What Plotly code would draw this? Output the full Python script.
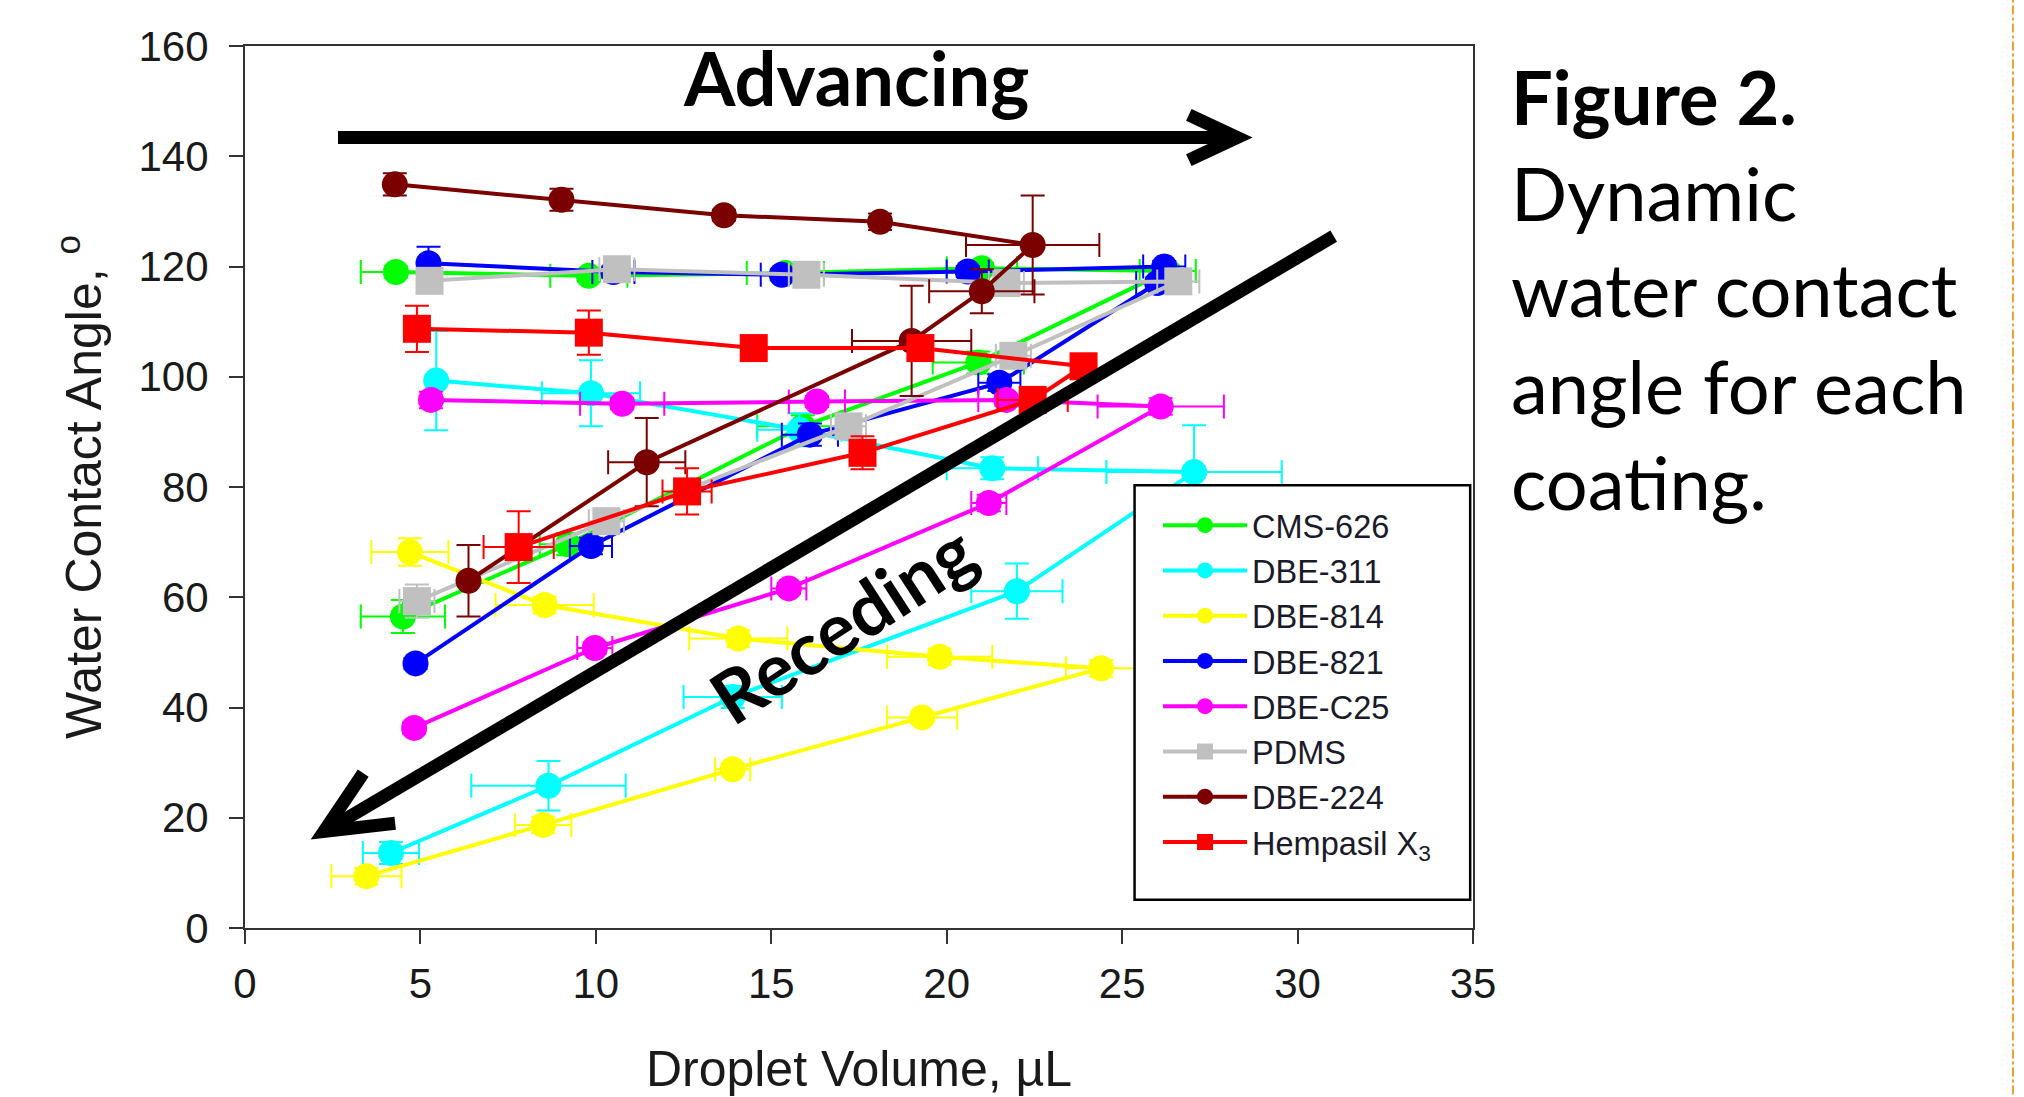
import plotly.graph_objects as go

# ---------------- data ----------------
series_names = ["CMS-626", "DBE-311", "DBE-814", "DBE-821", "DBE-C25", "PDMS", "DBE-224", "Hempasil X<sub>3</sub>"]
series_colors = ["#00FF00", "#00FFFF", "#FFFF00", "#0000FF", "#FF00FF", "#C0C0C0", "#7B0000", "#FF0000"]
series_symbols = ["circle", "circle", "circle", "circle", "circle", "square", "circle", "square"]

cms626_x = [4.3, 9.8, 15.4, 21.0, 26.3, 20.9, 15.9, 9.2, 4.5]
cms626_y = [119.0, 118.3, 118.8, 119.7, 119.2, 102.6, 91.0, 69.6, 56.5]
cms626_ex = [1.0, 1.1, 1.1, 1.0, 0.8, 1.3, 1.3, 0.8, 1.2]
cms626_ey = [1.0, 1.0, 1.0, 1.0, 1.0, 2.0, 2.0, 2.0, 3.0]

dbe311_x = [5.45, 9.86, 15.8, 21.3, 27.05, 22.0, 13.9, 8.65, 4.16]
dbe311_y = [99.3, 97.0, 90.4, 83.4, 82.7, 61.1, 41.9, 25.8, 13.6]
dbe311_ex = [None, 1.4, 1.2, 1.3, 2.5, 1.3, 1.4, 2.2, 0.8]
dbe311_ey = [9.0, 6.0, 3.0, 2.0, 8.5, 5.0, 2.0, 4.5, 2.0]

dbe814_x = [4.7, 8.54, 14.06, 19.8, 24.4, 19.3, 13.9, 8.5, 3.46]
dbe814_y = [68.2, 58.6, 52.5, 49.2, 47.1, 38.2, 28.8, 18.7, 9.4]
dbe814_ex = [1.1, 1.4, 1.4, 1.5, 1.0, 1.0, 0.5, 0.8, 1.0]
dbe814_ey = [2.5, 1.5, 1.5, 1.5, 1.5, 1.0, 1.0, 1.5, 1.5]

dbe821_x = [5.23, 10.5, 15.3, 20.6, 26.2, 26.0, 21.5, 16.1, 9.86, 4.86]
dbe821_y = [120.6, 119.0, 118.5, 119.1, 120.0, 117.0, 98.9, 89.5, 69.3, 48.0]
dbe821_ex = [None, 0.6, 0.6, 0.6, 0.6, 0.6, 0.6, 0.8, 0.6, None]
dbe821_ey = [3.0, 1.0, 1.0, 1.0, 1.0, 1.0, 1.5, 2.0, 1.5, 1.0]

dbec25_x = [5.3, 10.75, 16.3, 21.7, 26.1, 21.2, 15.5, 9.97, 4.82]
dbec25_y = [95.8, 95.1, 95.5, 95.8, 94.6, 77.1, 61.6, 50.8, 36.3]
dbec25_ex = [None, 1.2, 0.8, 0.8, 1.8, 0.5, 0.5, 0.5, None]
dbec25_ey = [1.5, 1.0, 1.0, 1.0, 1.5, 1.5, 1.0, 1.0, 1.0]

pdms_x = [5.26, 10.6, 16.0, 21.7, 26.6, 21.9, 17.2, 10.3, 4.9]
pdms_y = [117.4, 119.5, 118.5, 117.0, 117.3, 103.8, 91.0, 73.8, 59.3]
pdms_ex = [None, 0.5, 0.5, 0.5, 0.6, 0.5, 0.5, 0.5, 0.5]
pdms_ey = [1.0, 1.0, 1.0, 1.0, 1.0, 1.0, 1.0, 1.0, 3.0]

dbe224_x = [4.27, 9.02, 13.65, 18.1, 22.45, 21.0, 19.0, 11.45, 6.37]
dbe224_y = [134.9, 132.1, 129.3, 128.1, 123.9, 115.5, 106.5, 84.5, 63.0]
dbe224_ex = [None, None, None, None, 1.9, 1.5, 1.7, 1.1, None]
dbe224_ey = [2.0, 2.0, 1.0, 1.5, 9.0, 4.0, 10.0, 8.0, 6.5]

hemp_x = [4.9, 9.8, 14.5, 19.25, 23.9, 22.45, 17.6, 12.6, 7.8]
hemp_y = [108.7, 108.0, 105.2, 105.2, 101.9, 95.8, 86.2, 79.2, 69.1]
hemp_ex = [None, None, None, None, None, 1.0, None, 0.7, 1.0]
hemp_ey = [4.2, 4.0, 1.0, 1.0, 1.5, 1.5, 3.0, 4.2, 6.5]

all_x = [cms626_x, dbe311_x, dbe814_x, dbe821_x, dbec25_x, pdms_x, dbe224_x, hemp_x]
all_y = [cms626_y, dbe311_y, dbe814_y, dbe821_y, dbec25_y, pdms_y, dbe224_y, hemp_y]
all_ex = [cms626_ex, dbe311_ex, dbe814_ex, dbe821_ex, dbec25_ex, pdms_ex, dbe224_ex, hemp_ex]
all_ey = [cms626_ey, dbe311_ey, dbe814_ey, dbe821_ey, dbec25_ey, pdms_ey, dbe224_ey, hemp_ey]

x_ticks = [0, 5, 10, 15, 20, 25, 30, 35]
y_ticks = [0, 20, 40, 60, 80, 100, 120, 140, 160]

# arrows (data coordinates)
adv_arrow = dict(x0=2.65, x1=28.28, y=143.4, wing_x=26.9, wing_dy=4.1)
rec_arrow = dict(x0=31.03, y0=125.5, x1=2.25, y1=17.5, w1=(3.37, 28.1), w2=(4.28, 19.0))

# ---------------- figure ----------------
fig = go.Figure()
for name, col, sym, xs, ys, exs, eys in zip(series_names, series_colors, series_symbols,
                                            all_x, all_y, all_ex, all_ey):
    fig.add_trace(go.Scatter(
        x=xs, y=ys, name=name, mode="lines+markers",
        line=dict(color=col, width=4),
        marker=dict(color=col, symbol=sym, size=28 if sym == "square" else 26, line=dict(width=0)),
        error_x=dict(type="data", array=exs, color=col, thickness=2, width=12, visible=True),
        error_y=dict(type="data", array=eys, color=col, thickness=2, width=12, visible=True),
    ))

TICKFONT = dict(family="Arial, Liberation Sans", size=42, color="#1a1a1a")
TITLEFONT = dict(family="Arial, Liberation Sans", size=50, color="#1a1a1a")

fig.update_xaxes(range=[0, 35], tickvals=x_ticks, ticks="outside", ticklen=14, tickwidth=2,
                 tickcolor="#333", showline=True, linecolor="#333", linewidth=2, mirror=True,
                 showgrid=False, zeroline=False, tickfont=TICKFONT, ticklabelstandoff=4,
                 automargin=False,
                 title=dict(text="Droplet Volume, µL", font=TITLEFONT, standoff=46))
fig.update_yaxes(range=[0, 160], tickvals=y_ticks, ticks="outside", ticklen=14, tickwidth=2,
                 tickcolor="#333", showline=True, linecolor="#333", linewidth=2, mirror=True,
                 showgrid=False, zeroline=False, tickfont=TICKFONT, ticklabelstandoff=12,
                 automargin=False,
                 title=dict(text="Water Contact Angle, <sup>o</sup>", font=TITLEFONT, standoff=21))

shapes = []
# Advancing arrow
a = adv_arrow
shapes.append(dict(type="line", xref="x", yref="y", x0=a["x0"], x1=a["x1"] - 0.2, y0=a["y"], y1=a["y"],
                   line=dict(color="black", width=13)))
shapes.append(dict(type="path", xref="x", yref="y",
                   path=f"M {a['wing_x']},{a['y'] + a['wing_dy']} L {a['x1']},{a['y']} L {a['wing_x']},{a['y'] - a['wing_dy']}",
                   line=dict(color="black", width=13)))
# Receding arrow
r = rec_arrow
shapes.append(dict(type="line", xref="x", yref="y", x0=r["x0"], y0=r["y0"], x1=r["x1"] + 0.25, y1=r["y1"] + 0.9,
                   line=dict(color="black", width=13)))
shapes.append(dict(type="path", xref="x", yref="y",
                   path=f"M {r['w1'][0]},{r['w1'][1]} L {r['x1']},{r['y1']} L {r['w2'][0]},{r['w2'][1]}",
                   line=dict(color="black", width=13)))
# legend frame (white box above the data, native legend drawn on top of it)
shapes.append(dict(type="rect", xref="paper", yref="paper", x0=0.7244, x1=0.9977, y0=0.0321, y1=0.5019,
                   layer="above", fillcolor="white", line=dict(color="black", width=2.5)))
# orange dash-dot page border on the right
shapes.append(dict(type="line", xref="paper", yref="paper", x0=1.4397, x1=1.4397, y0=-0.25, y1=1.1,
                   line=dict(color="#F0A030", width=2, dash="dashdot")))
fig.update_layout(shapes=shapes)

annotations = [
    dict(text="<b>Advancing</b>", x=17.41, y=154.3, xref="x", yref="y", showarrow=False,
         font=dict(family="Lato", size=74, color="black")),
    dict(text="<b>Receding</b>", x=17.03, y=55.3, xref="x", yref="y", showarrow=False, textangle=-33,
         font=dict(family="Lato", size=73, color="black")),
    dict(text="<b>Figure 2.</b><br>Dynamic<br>water contact<br>angle for each<br>coating.",
         x=1.0293, y=0.996, xref="paper", yref="paper", xanchor="left", yanchor="top", align="left",
         showarrow=False, font=dict(family="Lato", size=74, color="black")),
]
fig.update_layout(annotations=annotations)

fig.update_layout(
    width=2024, height=1097,
    margin=dict(l=245, r=551, t=46, b=169, autoexpand=False),
    paper_bgcolor="white", plot_bgcolor="white",
    showlegend=True,
    legend=dict(x=0.7435, y=0.4880, xanchor="left", yanchor="top",
                bgcolor="rgba(0,0,0,0)", borderwidth=0,
                font=dict(family="Arial, Liberation Sans", size=32.5, color="#1a1a2a"),
                itemwidth=84),
)

# remove the default 8px page margin so the figure fills the window exactly
fig.write_html("out.html", config={"displayModeBar": False},
               post_script="document.body.style.margin='0px';document.body.style.overflow='hidden';")
